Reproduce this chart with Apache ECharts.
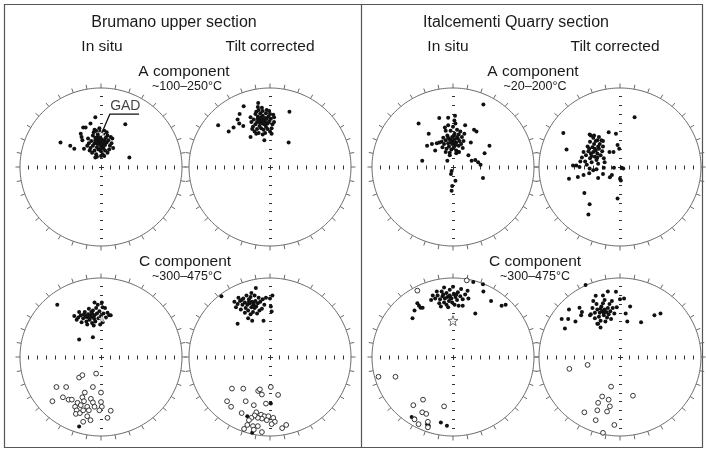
<!DOCTYPE html>
<html><head><meta charset="utf-8">
<script src="https://cdn.jsdelivr.net/npm/echarts@6/dist/echarts.min.js"></script>
<style>html,body{margin:0;padding:0;background:#fff}#c{width:706px;height:452px}</style>
</head><body><div id="c"></div><script>
// ---------- DATA (normalised projection coords, circle radius = 1) ----------
const sectionTitles = ["Brumano upper section", "Italcementi Quarry section"];
const columnTitles = ["In situ", "Tilt corrected"];
const componentTitles = ["A component", "C component"];
const tempRanges = [["~100–250°C", "~300–475°C"], ["~20–200°C", "~300–475°C"]];

// Brumano A in situ
const brumA_insitu_filled = [
[-0.07,0.63],[-0.22,0.50],[0.30,0.54],[-0.50,0.31],[-0.38,0.27],[-0.33,0.23],[-0.21,0.23],[0.35,0.12],[0.04,0.14],[-0.25,0.42],[-0.24,0.38],[-0.23,0.34],[-0.19,0.50],[-0.13,0.55],[-0.08,0.47],[-0.05,0.13],
[-0.02,0.31],[0.00,0.33],[-0.04,0.29],[0.02,0.30],[-0.06,0.33],[0.04,0.34],[-0.03,0.36],[0.01,0.27],[-0.08,0.30],[0.05,0.28],
[-0.05,0.25],[0.03,0.24],[-0.10,0.27],[0.07,0.31],[-0.01,0.38],[-0.07,0.37],[0.06,0.37],[-0.12,0.33],[0.09,0.34],[-0.03,0.22],
[0.00,0.20],[-0.08,0.21],[0.05,0.21],[-0.13,0.24],[0.11,0.27],[-0.04,0.41],[0.03,0.42],[-0.10,0.40],[0.08,0.40],[-0.15,0.30],
[0.13,0.30],[-0.01,0.45],[-0.06,0.46],[0.04,0.46],[-0.11,0.18],[0.02,0.16],[-0.06,0.16],[0.10,0.22],[-0.16,0.36],[0.14,0.36],
[-0.09,0.44],[0.07,0.44],[-0.02,0.49],[0.12,0.38],[-0.14,0.21],[0.00,0.14],[0.08,0.18],[-0.07,0.12],[0.15,0.24],[-0.17,0.27],
[0.01,0.35],[-0.03,0.33],[0.03,0.29],[-0.05,0.30],[0.02,0.33],[-0.01,0.28],[0.05,0.32],[-0.07,0.34],[0.00,0.24],[-0.04,0.38]];
const brumA_insitu_open = [];
const gadStar = [[0.01,0.43]];
const gadLeader = [[0.01,0.43],[0.11,0.67],[0.47,0.67]];
const gadLabel = [[0.30,0.77]];

// Brumano A tilt corrected
const brumA_tilt_filled = [
[-0.325,0.77],[-0.146,0.81],[0.24,0.70],[-0.64,0.53],[-0.51,0.45],[-0.45,0.50],[-0.40,0.60],[-0.375,0.67],[-0.38,0.55],[-0.33,0.52],[-0.24,0.38],[-0.07,0.34],[0.02,0.42],[0.23,0.31],[-0.17,0.42],[-0.15,0.76],
[-0.10,0.58],[-0.08,0.60],[-0.12,0.56],[-0.06,0.57],[-0.14,0.60],[-0.04,0.61],[-0.11,0.63],[-0.07,0.54],[-0.16,0.57],[-0.03,0.55],
[-0.13,0.52],[-0.05,0.51],[-0.18,0.54],[-0.01,0.58],[-0.09,0.65],[-0.15,0.64],[-0.02,0.64],[-0.20,0.60],[0.01,0.61],[-0.11,0.49],
[-0.08,0.47],[-0.16,0.48],[-0.03,0.48],[-0.21,0.51],[0.03,0.54],[-0.12,0.68],[-0.05,0.68],[-0.18,0.67],[0.00,0.67],[-0.23,0.57],
[0.05,0.57],[-0.09,0.71],[-0.14,0.72],[-0.04,0.72],[-0.19,0.45],[-0.06,0.43],[-0.14,0.43],[0.02,0.49],[-0.24,0.63],[0.05,0.63],
[-0.17,0.70],[-0.01,0.71],[-0.10,0.75],[0.04,0.66],[-0.22,0.48],[-0.09,0.41],[0.00,0.45],[-0.12,0.60],[-0.07,0.59],
[-0.13,0.57],[-0.06,0.62],[-0.09,0.55],[-0.15,0.61]];
const brumA_tilt_open = [];

// Brumano C in situ
const brumC_insitu_filled = [
[-0.54,0.66],[-0.27,0.22],[-0.10,0.25],[-0.27,-0.88],[0.12,0.53],[0.01,0.69],[-0.08,0.69],[0.02,0.63],
[-0.13,0.52],[-0.10,0.50],[-0.16,0.54],[-0.08,0.53],[-0.19,0.51],[-0.05,0.55],[-0.12,0.57],[-0.14,0.47],[-0.22,0.49],[-0.03,0.49],
[-0.25,0.53],[-0.07,0.45],[-0.18,0.45],[0.00,0.52],[-0.10,0.59],[-0.28,0.50],[-0.02,0.58],[-0.20,0.57],[0.03,0.55],[-0.11,0.43],
[-0.30,0.47],[-0.15,0.61],[-0.06,0.62],[0.06,0.50],[-0.24,0.44],[0.02,0.44],[-0.09,0.40],[-0.17,0.41],[0.08,0.56],[-0.33,0.52],
[-0.04,0.66],[0.05,0.62],[-0.11,0.55],[-0.16,0.50],[-0.08,0.48],[-0.21,0.54],[0.10,0.53],[-0.27,0.57],[0.01,0.47],[-0.01,0.41]];
const brumC_insitu_open = [
[-0.27,-0.26],[-0.23,-0.23],[-0.06,-0.21],[-0.55,-0.38],[-0.43,-0.38],[-0.10,-0.38],[-0.20,-0.45],[0.00,-0.45],[-0.47,-0.51],[-0.60,-0.56],
[-0.40,-0.54],[-0.36,-0.54],[-0.23,-0.51],[-0.21,-0.56],[-0.125,-0.53],[-0.10,-0.575],[-0.08,-0.63],[0.00,-0.57],[0.01,-0.63],[-0.02,-0.675],
[0.12,-0.68],[0.08,-0.77],[-0.29,-0.58],[-0.32,-0.63],[-0.30,-0.675],[-0.31,-0.72],[-0.26,-0.71],[-0.22,-0.675],[-0.17,-0.75],[-0.22,-0.82],
[-0.13,-0.80],[-0.17,-0.63],[-0.15,-0.675],[-0.25,-0.61]];
const brumC_star = [[0.01,0.48]];

// Brumano C tilt corrected
const brumC_tilt_filled = [
[-0.60,0.77],[-0.175,0.875],[-0.40,0.42],[-0.22,0.46],[-0.08,0.46],[-0.27,0.49],[0.02,0.575],[0.01,0.64],[0.00,0.74],[0.03,0.78],[0.01,-0.59],[-0.28,-0.75],[-0.22,-0.96],
[-0.25,0.68],[-0.22,0.70],[-0.28,0.66],[-0.20,0.67],[-0.31,0.69],[-0.18,0.71],[-0.26,0.73],[-0.23,0.63],[-0.34,0.66],[-0.15,0.68],
[-0.37,0.71],[-0.19,0.62],[-0.30,0.62],[-0.12,0.70],[-0.24,0.76],[-0.40,0.67],[-0.14,0.75],[-0.33,0.74],[-0.09,0.73],[-0.27,0.59],
[-0.42,0.63],[-0.29,0.78],[-0.19,0.78],[-0.07,0.66],[-0.36,0.60],[-0.10,0.61],[-0.21,0.57],[-0.31,0.56],[-0.05,0.75],[-0.44,0.70],
[-0.16,0.55],[-0.23,0.81],[-0.26,0.70],[-0.21,0.65],[-0.17,0.64],[-0.35,0.72],[-0.13,0.59],[-0.39,0.75],[-0.24,0.54]];
const brumC_tilt_open = [
[-0.47,-0.40],[-0.33,-0.40],[-0.146,-0.43],[-0.10,-0.475],[-0.125,-0.41],[0.01,-0.38],[0.10,-0.48],[-0.53,-0.56],[-0.48,-0.63],[-0.30,-0.56],
[-0.20,-0.61],[-0.05,-0.59],[-0.35,-0.71],[-0.17,-0.70],[-0.11,-0.73],[-0.07,-0.75],[-0.02,-0.75],[0.04,-0.77],[0.06,-0.82],[0.02,-0.85],
[-0.04,-0.80],[-0.10,-0.78],[-0.15,-0.77],[-0.19,-0.74],[-0.23,-0.77],[-0.26,-0.80],[-0.28,-0.86],[-0.21,-0.875],[-0.15,-0.875],[-0.10,-0.95],
[-0.32,-0.91],[0.15,-0.90],[0.20,-0.86],[-0.20,-0.92]];

// Italcementi A in situ
const italA_insitu_filled = [
[0.375,0.79],[-0.425,0.55],[-0.17,0.62],[-0.06,0.625],[0.025,0.65],[0.017,0.59],[-0.30,0.42],[0.15,0.53],[0.26,0.47],[0.29,0.45],
[-0.32,0.27],[-0.26,0.29],[-0.20,0.30],[-0.17,0.31],[-0.22,0.21],[-0.09,0.19],[-0.38,0.08],[-0.07,0.08],[-0.04,0.15],[0.04,0.175],
[0.075,0.19],[0.22,0.31],[0.45,0.27],[0.39,0.175],[0.19,0.15],[0.275,0.09],[0.23,0.08],[0.31,0.06],[0.34,0.03],[0.37,-0.14],
[-0.017,-0.05],[-0.025,-0.09],[0.03,-0.175],[-0.01,-0.24],[-0.017,-0.30],
[0.00,0.33],[0.02,0.35],[-0.02,0.31],[0.04,0.31],[-0.04,0.35],[0.06,0.36],[-0.01,0.38],[0.03,0.28],[-0.06,0.30],[0.08,0.33],
[-0.05,0.26],[0.01,0.25],[-0.09,0.34],[0.10,0.29],[0.02,0.42],[-0.07,0.40],[0.07,0.41],[-0.11,0.29],[0.11,0.38],[-0.02,0.22],
[0.04,0.21],[-0.08,0.23],[-0.12,0.37],[0.13,0.33],[-0.03,0.46],[0.05,0.47],[-0.09,0.46],[0.09,0.45],[-0.14,0.32],[0.00,0.51],
[-0.06,0.53],[0.03,0.55],[0.12,0.24],[-0.13,0.25],[0.06,0.19],[-0.04,0.18],[0.14,0.42],[-0.10,0.50],[0.02,0.30],
[-0.03,0.34],[0.05,0.38],[-0.06,0.37],[0.01,0.40],[-0.01,0.29],[0.07,0.27]];
const italA_insitu_open = [];

// Italcementi A tilt corrected
const italA_tilt_filled = [
[0.18,0.63],[-0.70,0.43],[-0.66,0.22],[-0.375,0.41],[-0.32,0.40],[-0.28,0.34],[-0.14,0.44],[-0.05,0.42],[-0.03,0.28],[-0.01,0.23],
[-0.21,0.33],[-0.13,0.19],[-0.08,0.19],[-0.58,0.02],[-0.54,0.02],[-0.50,0.00],[-0.63,-0.15],[-0.52,-0.125],[-0.45,-0.10],[-0.38,-0.08],
[-0.27,-0.14],[-0.21,-0.09],[-0.20,-0.01],[-0.125,-0.13],[-0.10,-0.10],[-0.33,-0.04],[-0.29,-0.03],[-0.375,-0.02],[-0.075,-0.01],[0.02,-0.01],
[0.04,-0.02],[0.00,-0.15],[0.01,-0.17],[-0.44,-0.33],[-0.375,-0.47],[-0.39,-0.60],[-0.03,-0.40],
[-0.33,0.19],[-0.30,0.21],[-0.36,0.17],[-0.28,0.17],[-0.39,0.20],[-0.26,0.23],[-0.34,0.25],[-0.31,0.13],[-0.42,0.15],[-0.24,0.15],
[-0.37,0.11],[-0.29,0.09],[-0.45,0.19],[-0.22,0.20],[-0.32,0.29],[-0.40,0.26],[-0.25,0.29],[-0.47,0.12],[-0.20,0.11],[-0.35,0.06],
[-0.27,0.04],[-0.43,0.07],[-0.30,0.33],[-0.37,0.32],[-0.23,0.34],[-0.41,0.03],[-0.33,0.37],[-0.21,0.26],[-0.49,0.07],[-0.19,0.06],
[-0.31,0.23],[-0.35,0.14],[-0.28,0.12],[-0.38,0.23],[-0.27,0.26],[-0.26,0.38],[-0.36,0.40]];
const italA_tilt_open = [];

// Italcementi C in situ
const italC_insitu_filled = [
[-0.50,0.49],[-0.475,0.59],[-0.44,0.68],[-0.42,0.65],[-0.40,0.625],[-0.375,0.625],[0.25,0.95],[0.37,0.92],[0.375,0.83],[0.47,0.71],
[0.60,0.65],[0.65,0.66],[0.275,0.55],[0.19,0.74],[0.12,0.65],[-0.51,-0.76],[-0.47,-0.78],[-0.32,-0.85],[-0.30,-0.87],[-0.15,-0.83],[-0.075,-0.87],
[-0.07,0.76],[-0.04,0.78],[-0.10,0.74],[-0.02,0.74],[-0.13,0.77],[0.01,0.80],[-0.08,0.81],[-0.05,0.71],[-0.16,0.73],[0.03,0.76],
[-0.19,0.78],[-0.11,0.69],[0.05,0.72],[-0.01,0.69],[-0.14,0.83],[0.06,0.82],[-0.22,0.74],[-0.08,0.66],[0.09,0.77],[-0.17,0.68],
[-0.04,0.85],[-0.25,0.78],[0.12,0.73],[0.02,0.66],[-0.20,0.83],[0.10,0.86],[-0.11,0.88],[-0.27,0.72],[0.15,0.79],[0.00,0.89],
[-0.15,0.64],[-0.06,0.63],[0.07,0.65],[0.18,0.84],[-0.03,0.75],[-0.12,0.79],[0.04,0.79]];
const italC_insitu_open = [
[-0.44,0.84],[0.17,0.97],[-0.92,-0.25],[-0.71,-0.25],[-0.37,-0.54],[-0.49,-0.61],[-0.11,-0.625],[-0.38,-0.70],[-0.33,-0.72],[-0.475,-0.79],
[-0.425,-0.85],[-0.31,-0.82],[-0.31,-0.89]];
const italC_star = [[0.00,0.46]];

// Italcementi C tilt corrected
const italC_tilt_filled = [
[-0.425,0.91],[-0.30,0.775],[-0.21,0.78],[-0.15,0.83],[-0.05,0.825],[0.00,0.73],[0.05,0.74],[-0.50,0.625],[-0.63,0.60],[-0.72,0.48],
[-0.64,0.48],[-0.55,0.45],[-0.68,0.36],[-0.47,0.57],[-0.48,0.53],[0.125,0.64],[0.07,0.55],[0.09,0.45],[0.26,0.44],[0.425,0.53],
[0.50,0.55],[-0.24,0.375],[-0.28,0.42],[-0.37,0.53],
[-0.22,0.58],[-0.19,0.60],[-0.25,0.56],[-0.17,0.57],[-0.28,0.60],[-0.15,0.62],[-0.23,0.64],[-0.20,0.53],[-0.31,0.56],[-0.12,0.58],
[-0.26,0.51],[-0.16,0.50],[-0.34,0.62],[-0.09,0.62],[-0.21,0.68],[-0.29,0.67],[-0.13,0.67],[-0.36,0.54],[-0.07,0.55],[-0.24,0.46],
[-0.18,0.45],[-0.31,0.49],[-0.04,0.63],[-0.19,0.72],[-0.33,0.71],[-0.10,0.71],[-0.27,0.42],[-0.20,0.56],[-0.24,0.61],
[-0.14,0.54],[-0.11,0.48]];
const italC_tilt_open = [
[-0.625,-0.15],[-0.40,-0.10],[-0.11,-0.375],[0.16,-0.49],[-0.22,-0.50],[-0.14,-0.54],[-0.27,-0.58],[-0.125,-0.625],[-0.44,-0.70],[-0.28,-0.675],
[-0.16,-0.69],[-0.30,-0.80],[-0.07,-0.86],[-0.21,-0.96]];

// ---------- LAYOUT ----------
const plots = [
  {cx:101, cy:167, filled:brumA_insitu_filled, open:brumA_insitu_open, star:gadStar},
  {cx:270, cy:167, filled:brumA_tilt_filled, open:brumA_tilt_open},
  {cx:453, cy:167, filled:italA_insitu_filled, open:italA_insitu_open},
  {cx:620, cy:167, filled:italA_tilt_filled, open:italA_tilt_open},
  {cx:101, cy:357, filled:brumC_insitu_filled, open:brumC_insitu_open, star:brumC_star},
  {cx:270, cy:357, filled:brumC_tilt_filled, open:brumC_tilt_open},
  {cx:453, cy:357, filled:italC_insitu_filled, open:italC_insitu_open, bigStar:italC_star},
  {cx:620, cy:357, filled:italC_tilt_filled, open:italC_tilt_open}
];
const RX = 81, RY = 79;
const STAR = 'path://M0,-10L2.35,-3.24L9.51,-3.09L3.8,1.24L5.88,8.09L0,4L-5.88,8.09L-3.8,1.24L-9.51,-3.09L-2.35,-3.24Z';

function frame(params, api){
  const c = api.coord([0,0]), e = api.coord([1,0]), n = api.coord([0,1]);
  const rx = e[0]-c[0], ry = c[1]-n[1];
  const ch = [];
  const pts = [];
  for (let i=0;i<=240;i++){const a=i/240*2*Math.PI; pts.push([c[0]+rx*Math.sin(a), c[1]-ry*Math.cos(a)]);}
  ch.push({type:'polyline', shape:{points:pts}, style:{stroke:'#6a6a6a', fill:null, lineWidth:1}});
  for (let d=0; d<360; d+=10){
    const a=d*Math.PI/180, s=Math.sin(a), co=Math.cos(a);
    ch.push({type:'line', shape:{x1:c[0]+rx*s, y1:c[1]-ry*co, x2:c[0]+(rx+4.5)*s, y2:c[1]-(ry+4.5)*co}, style:{stroke:'#6a6a6a', lineWidth:1}});
  }
  const cx = Math.round(c[0])+0.5, cy = Math.round(c[1])+0.5;
  for (let k=1;k<=8;k++){
    const t=k*0.1125;
    for (const sg of [-1,1]){
      const x=Math.round(c[0]+sg*t*rx)+0.5;
      ch.push({type:'line', shape:{x1:x,y1:cy-2,x2:x,y2:cy+2}, style:{stroke:'#333',lineWidth:1}});
      const y=Math.round(c[1]+sg*t*ry)+0.5;
      ch.push({type:'line', shape:{x1:cx-1.5,y1:y,x2:cx+1.5,y2:y}, style:{stroke:'#333',lineWidth:1}});
    }
  }
  ch.push({type:'line', shape:{x1:cx-2.5,y1:cy,x2:cx+2.5,y2:cy}, style:{stroke:'#333',lineWidth:1}});
  ch.push({type:'line', shape:{x1:cx,y1:cy-2.5,x2:cx,y2:cy+2.5}, style:{stroke:'#333',lineWidth:1}});
  return {type:'group', children: ch};
}

const grid = [], xAxis = [], yAxis = [], series = [];
plots.forEach((p,i)=>{
  grid.push({left:p.cx-RX, top:p.cy-RY, width:2*RX, height:2*RY});
  xAxis.push({gridIndex:i, type:'value', min:-1, max:1, show:false});
  yAxis.push({gridIndex:i, type:'value', min:-1, max:1, show:false});
  series.push({type:'custom', xAxisIndex:i, yAxisIndex:i, data:[[0,0]], renderItem:frame, silent:true, z:1});
  series.push({type:'scatter', xAxisIndex:i, yAxisIndex:i, data:p.filled, symbol:'circle', symbolSize:4,
    itemStyle:{color:'#111', opacity:1}, z:3, silent:true});
  if (p.open.length) series.push({type:'scatter', xAxisIndex:i, yAxisIndex:i, data:p.open, symbol:'circle', symbolSize:4.8,
    itemStyle:{color:'#fff', borderColor:'#222', borderWidth:0.9, opacity:1}, z:4, silent:true});
  if (p.star) series.push({type:'scatter', xAxisIndex:i, yAxisIndex:i, data:p.star, symbol:STAR, symbolSize:6,
    itemStyle:{color:'#fff', borderColor:'#fff', borderWidth:0.5}, z:5, silent:true});
  if (p.bigStar) series.push({type:'scatter', xAxisIndex:i, yAxisIndex:i, data:p.bigStar, symbol:STAR, symbolSize:10,
    itemStyle:{color:'#fff', borderColor:'#333', borderWidth:0.9}, z:5, silent:true});
});
// GAD leader + label (plot 0)
series.push({type:'line', xAxisIndex:0, yAxisIndex:0, data:gadLeader, symbol:'none', lineStyle:{color:'#111', width:1.3}, z:6, silent:true});
series.push({type:'scatter', xAxisIndex:0, yAxisIndex:0, data:gadLabel, symbolSize:0, z:6, silent:true,
  label:{show:true, position:'inside', formatter:'GAD', fontFamily:'Liberation Sans', fontSize:14, color:'#111'}});

const F = '"Liberation Sans", Arial, sans-serif';
const graphic = [
  {type:'rect', shape:{x:4.5, y:4.5, width:698, height:443}, style:{stroke:'#555', fill:null, lineWidth:1.2}, silent:true},
  {type:'line', shape:{x1:361.5, y1:4.5, x2:361.5, y2:447.5}, style:{stroke:'#555', lineWidth:1.2}, silent:true}
];
function txt(t, x, y, size){ graphic.push({type:'text', x:x, y:y, silent:true, style:{text:t, textAlign:'center', textVerticalAlign:'middle', font: size+'px '+F, fill:'#1a1a1a'}}); }
txt(sectionTitles[0], 174, 23, 16); txt(sectionTitles[1], 516, 23, 16);
txt(columnTitles[0], 102, 47, 15.5); txt(columnTitles[1], 270, 47, 15.5);
txt(columnTitles[0], 448, 47, 15.5); txt(columnTitles[1], 615, 47, 15.5);
txt(componentTitles[0], 184, 72, 15.5); txt(componentTitles[0], 533, 72, 15.5);
txt(tempRanges[0][0], 187, 87, 12.5); txt(tempRanges[1][0], 535, 87, 12.5);
txt(componentTitles[1], 185, 262, 15.5); txt(componentTitles[1], 535, 262, 15.5);
txt(tempRanges[0][1], 187, 277, 12.5); txt(tempRanges[1][1], 535, 277, 12.5);

const chart = echarts.init(document.getElementById('c'), null, {renderer:'canvas'});
chart.setOption({animation:false, backgroundColor:'#fff', grid, xAxis, yAxis, series, graphic});
</script></body></html>
